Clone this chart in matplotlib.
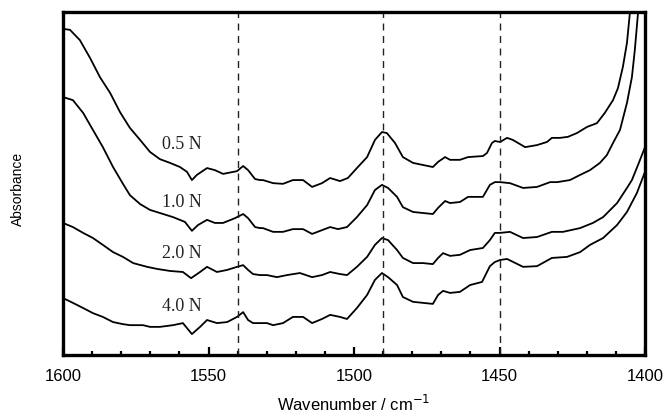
import matplotlib
matplotlib.use("Agg")
import matplotlib.pyplot as plt
from matplotlib.ticker import MultipleLocator

# ---------------- data ----------------
wn_05 = [1600.0, 1599.3, 1597.6, 1594.2, 1590.7, 1587.3, 1583.8, 1580.4, 1577.0, 1573.5,
         1570.1, 1566.7, 1563.2, 1559.8, 1557.4, 1555.7, 1554.0, 1550.5, 1547.8, 1545.0,
         1540.2, 1538.1, 1536.4, 1534.0, 1532.3, 1531.3, 1527.8, 1524.4, 1521.0, 1517.5,
         1514.4, 1511.0, 1508.2, 1504.8, 1502.1, 1499.0, 1495.5, 1492.8, 1490.4, 1488.7,
         1485.9, 1483.2, 1479.7, 1476.3, 1472.9, 1471.1, 1468.7, 1467.0, 1463.6, 1460.8,
         1455.7, 1454.3, 1452.6, 1451.6, 1449.8, 1447.4, 1445.4, 1441.2, 1437.1, 1433.7,
         1432.0, 1429.2, 1426.5, 1423.4, 1419.9, 1416.5, 1413.8, 1411.0, 1409.3, 1407.6,
         1406.2, 1405.2, 1404.5]
ab_05 = [0.948, 0.950, 0.948, 0.918, 0.866, 0.810, 0.764, 0.708, 0.662, 0.627,
         0.592, 0.571, 0.560, 0.548, 0.534, 0.510, 0.525, 0.545, 0.539, 0.528,
         0.536, 0.551, 0.539, 0.513, 0.510, 0.510, 0.501, 0.499, 0.510, 0.510,
         0.490, 0.501, 0.516, 0.507, 0.516, 0.545, 0.577, 0.627, 0.650, 0.647,
         0.618, 0.577, 0.560, 0.554, 0.548, 0.563, 0.577, 0.569, 0.569, 0.577,
         0.580, 0.589, 0.618, 0.624, 0.621, 0.633, 0.627, 0.606, 0.612, 0.621,
         0.633, 0.633, 0.636, 0.647, 0.665, 0.676, 0.706, 0.743, 0.778, 0.840,
         0.910, 0.997, 1.064]

wn_10 = [1600.0, 1596.6, 1593.1, 1589.7, 1586.3, 1582.8, 1579.4, 1577.0, 1573.5, 1570.1,
         1566.7, 1562.2, 1558.1, 1555.7, 1553.6, 1550.5, 1547.8, 1545.0, 1540.9, 1538.1,
         1536.4, 1534.0, 1532.3, 1531.3, 1527.8, 1524.4, 1521.0, 1517.5, 1514.4, 1511.0,
         1508.2, 1505.5, 1502.4, 1499.0, 1495.5, 1492.8, 1490.4, 1488.3, 1485.2, 1483.2,
         1479.7, 1476.3, 1472.9, 1471.1, 1468.7, 1467.0, 1463.6, 1460.8, 1455.7, 1453.3,
         1451.6, 1449.8, 1446.4, 1441.9, 1437.1, 1432.6, 1430.2, 1425.8, 1422.3, 1418.9,
         1415.5, 1413.1, 1411.0, 1408.6, 1406.2, 1404.5, 1403.5, 1402.4, 1401.7]
ab_10 = [0.752, 0.743, 0.706, 0.656, 0.606, 0.548, 0.499, 0.466, 0.440, 0.423,
         0.414, 0.402, 0.388, 0.362, 0.379, 0.394, 0.385, 0.385, 0.399, 0.411,
         0.399, 0.373, 0.370, 0.370, 0.359, 0.359, 0.367, 0.367, 0.353, 0.364,
         0.373, 0.367, 0.373, 0.402, 0.437, 0.481, 0.496, 0.487, 0.461, 0.431,
         0.417, 0.414, 0.411, 0.429, 0.449, 0.443, 0.446, 0.461, 0.461, 0.496,
         0.504, 0.504, 0.501, 0.487, 0.490, 0.504, 0.504, 0.510, 0.525, 0.539,
         0.560, 0.583, 0.618, 0.656, 0.735, 0.810, 0.889, 0.997, 1.064]

wn_20 = [1600.0, 1596.6, 1593.1, 1589.7, 1586.3, 1582.8, 1579.4, 1575.9, 1571.1, 1567.7,
         1563.2, 1558.8, 1556.0, 1552.9, 1550.5, 1547.1, 1543.6, 1540.2, 1538.1, 1536.4,
         1534.7, 1532.3, 1529.9, 1526.5, 1523.0, 1518.6, 1514.4, 1511.0, 1508.2, 1504.8,
         1502.4, 1499.0, 1495.5, 1492.8, 1490.4, 1488.3, 1485.2, 1483.2, 1479.7, 1476.3,
         1472.9, 1471.1, 1469.4, 1467.0, 1463.6, 1460.1, 1455.7, 1453.3, 1451.6, 1449.8,
         1446.4, 1441.9, 1437.1, 1432.0, 1428.2, 1422.3, 1417.9, 1414.4, 1409.6, 1406.2,
         1404.5, 1402.4, 1400.0]
ab_20 = [0.385, 0.373, 0.356, 0.341, 0.321, 0.300, 0.286, 0.268, 0.257, 0.251,
         0.245, 0.242, 0.224, 0.242, 0.257, 0.242, 0.248, 0.257, 0.262, 0.248,
         0.236, 0.233, 0.233, 0.227, 0.233, 0.239, 0.227, 0.233, 0.242, 0.236,
         0.233, 0.257, 0.286, 0.321, 0.341, 0.335, 0.306, 0.283, 0.268, 0.268,
         0.265, 0.283, 0.297, 0.289, 0.292, 0.306, 0.312, 0.335, 0.356, 0.356,
         0.359, 0.341, 0.344, 0.359, 0.359, 0.370, 0.385, 0.402, 0.443, 0.487,
         0.510, 0.554, 0.606]

wn_40 = [1600.0, 1596.6, 1593.1, 1589.7, 1586.3, 1582.8, 1579.4, 1577.0, 1572.5, 1570.1,
         1566.7, 1562.2, 1558.8, 1555.7, 1552.9, 1550.5, 1547.1, 1543.6, 1540.2, 1538.1,
         1536.4, 1534.7, 1532.3, 1529.9, 1527.8, 1524.4, 1521.0, 1517.5, 1514.4, 1511.0,
         1508.2, 1504.8, 1502.4, 1499.0, 1495.5, 1492.8, 1490.4, 1488.3, 1485.2, 1483.2,
         1479.7, 1476.3, 1472.9, 1471.1, 1469.4, 1467.0, 1463.6, 1460.1, 1456.0, 1453.3,
         1451.6, 1449.8, 1447.4, 1441.9, 1437.1, 1432.0, 1426.8, 1422.3, 1418.9, 1414.4,
         1409.6, 1406.2, 1402.8, 1400.0]
ab_40 = [0.166, 0.152, 0.137, 0.122, 0.111, 0.096, 0.090, 0.087, 0.087, 0.082,
         0.082, 0.087, 0.093, 0.061, 0.082, 0.102, 0.093, 0.096, 0.111, 0.125,
         0.102, 0.093, 0.093, 0.093, 0.087, 0.093, 0.111, 0.111, 0.093, 0.105,
         0.117, 0.111, 0.105, 0.137, 0.175, 0.219, 0.239, 0.227, 0.204, 0.169,
         0.155, 0.152, 0.149, 0.175, 0.187, 0.181, 0.184, 0.204, 0.213, 0.259,
         0.271, 0.277, 0.280, 0.257, 0.259, 0.283, 0.286, 0.300, 0.321, 0.341,
         0.379, 0.417, 0.472, 0.534]

series_labels = ["0.5 N", "1.0 N", "2.0 N", "4.0 N"]
label_x = [1566.0, 1566.0, 1566.0, 1566.0]
label_y = [0.615, 0.446, 0.297, 0.140]
marker_lines = [1540, 1490, 1450]
xticks = [1600, 1550, 1500, 1450, 1400]

# ---------------- figure ----------------
fig = plt.figure(figsize=(6.66, 4.16), dpi=100)
ax = fig.add_axes([63 / 666, 1 - 355 / 416, (645 - 63) / 666, (355 - 12) / 416])

for wn, ab in [(wn_05, ab_05), (wn_10, ab_10), (wn_20, ab_20), (wn_40, ab_40)]:
    ax.plot(wn, ab, color="black", lw=1.3, solid_joinstyle="round")

for x in marker_lines:
    ax.axvline(x, color="#222222", lw=1.0, ls=(0, (5, 4)))

for t, x, y in zip(series_labels, label_x, label_y):
    ax.text(x, y, t, family="Liberation Serif", fontsize=13, ha="left", va="center",
            color="#222222")

ax.set_xlim(1600, 1400)
ax.set_ylim(0, 1)
ax.set_xticks(xticks)
ax.set_xticklabels([str(v) for v in xticks])
ax.xaxis.set_minor_locator(MultipleLocator(10))
ax.tick_params(axis="x", which="major", direction="in", length=6, width=1.6,
               pad=10, labelsize=12, bottom=True, top=False)
ax.tick_params(axis="x", which="minor", direction="in", length=3, width=1.6,
               bottom=True, top=False)
for lab in ax.get_xticklabels():
    lab.set_family("Liberation Sans")
ax.set_yticks([])
for sp in ax.spines.values():
    sp.set_linewidth(2.4)

ax.set_xlabel("Wavenumber / cm$^{-1}$", family="Liberation Sans", fontsize=12, labelpad=7)
fig.text(18 / 666, 1 - 189 / 416, "Absorbance", family="Liberation Sans", fontsize=10,
         rotation=90, ha="center", va="center")

fig.savefig("out.png", dpi=100)
